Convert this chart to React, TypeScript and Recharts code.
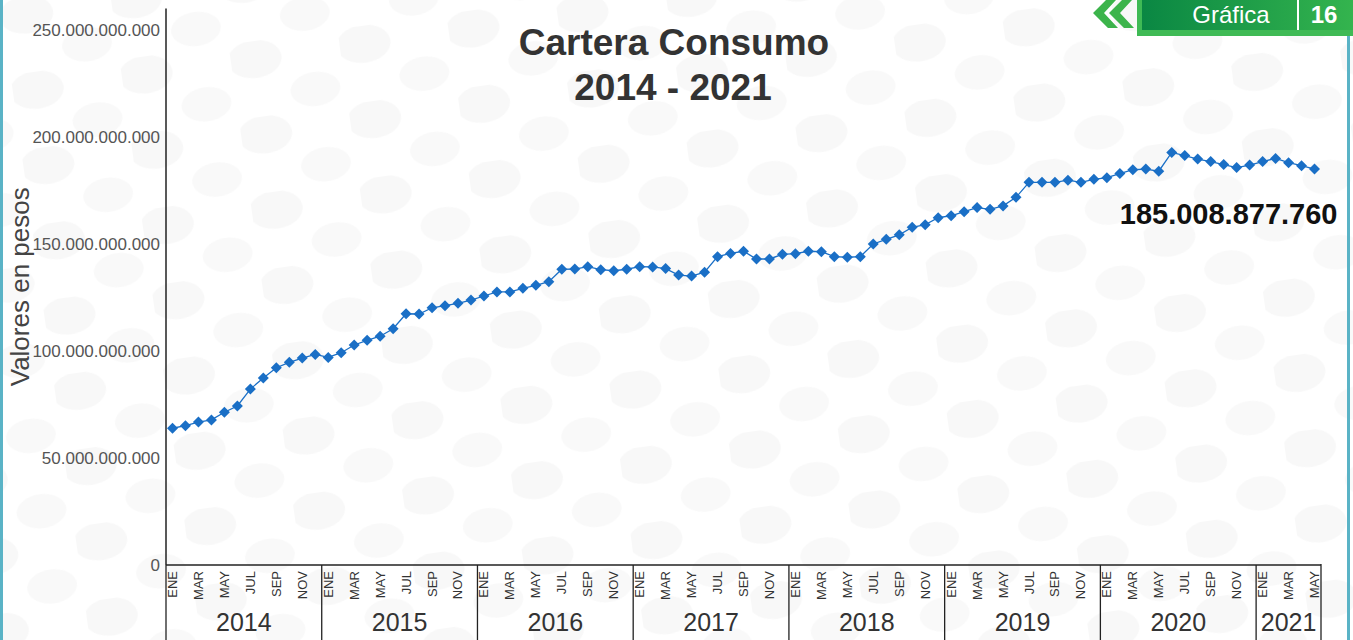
import React from 'react';
import { ComposedChart, Line, XAxis, YAxis, LabelList, Label } from 'recharts';

// Cartera Consumo, saldo mensual en miles de millones de pesos
const years = [2014, 2015, 2016, 2017, 2018, 2019, 2020, 2021];
const monthNames = ['ENE', 'FEB', 'MAR', 'ABR', 'MAY', 'JUN', 'JUL', 'AGO', 'SEP', 'OCT', 'NOV', 'DIC'];

const v2014 = [63.9, 65.1, 66.8, 67.8, 71.4, 74.3, 82.2, 87.4, 92.2, 94.7, 96.7, 98.4];
const v2015 = [97.0, 99.2, 102.8, 105.0, 106.9, 110.4, 117.4, 117.3, 120.2, 121.2, 122.3, 123.8];
const v2016 = [125.7, 127.6, 127.6, 129.3, 130.7, 132.4, 138.2, 138.3, 139.4, 138.0, 137.5, 138.2];
const v2017 = [139.4, 139.3, 138.5, 135.5, 135.0, 136.8, 144.1, 145.6, 146.6, 143.0, 143.0, 145.2];
const v2018 = [145.5, 146.6, 146.4, 144.1, 143.8, 144.1, 150.0, 152.2, 154.3, 157.8, 159.0, 162.3];
const v2019 = [163.2, 165.1, 167.0, 166.2, 167.8, 171.8, 178.8, 178.8, 178.8, 179.8, 178.8, 180.2];
const v2020 = [181.0, 182.9, 184.7, 185.0, 184.0, 192.8, 191.3, 189.7, 188.5, 187.1, 185.7, 186.9];
const v2021 = [188.5, 190.0, 188.0, 186.6, 185.008877760];

const yTicks = [0, 50e9, 100e9, 150e9, 200e9, 250e9];
const lastLabel = '185.008.877.760';

const byYear = [v2014, v2015, v2016, v2017, v2018, v2019, v2020, v2021];
const data = byYear.flatMap((vals, yi) =>
  vals.map((v, m) => ({
    key: `${years[yi]}-${m + 1}`,
    year: years[yi],
    month: m,
    count: vals.length,
    value: v * 1e9,
  }))
);

const W = 1353;
const H = 640;
const margin = { top: 8.6, right: 32, bottom: 0, left: 0 };
const yAxisW = 166;
const plotW = W - margin.left - margin.right - yAxisW;
const bw = plotW / data.length;
const BLUE = '#1a6fc6';
const font = '"Liberation Sans", Arial, Helvetica, sans-serif';

const fmt = (v: number) => String(Math.round(v)).replace(/\B(?=(\d{3})+(?!\d))/g, '.');

function MonthTick(props: any) {
  const { x, y, payload } = props;
  const d = data[payload.index];
  if (!d) return null;
  const half = bw / 2;
  const left = x - half;
  const isLast = payload.index === data.length - 1;
  return (
    <g>
      {d.month % 2 === 0 && (
        <text x={x} y={y + 6} transform={`rotate(-90 ${x} ${y + 6})`} dy={4.5} textAnchor="end"
          fontSize={13} fill="#333" fontFamily={font}>
          {monthNames[d.month]}
        </text>
      )}
      {d.month === 0 && (
        <>
          <line x1={left} x2={left} y1={y} y2={H} stroke="#222" strokeWidth={1.3} />
          <text x={left + (d.count * bw) / 2} y={y + 66} textAnchor="middle" fontSize={25}
            fill="#333" fontFamily={font}>
            {d.year}
          </text>
        </>
      )}
      {isLast && <line x1={x + half} x2={x + half} y1={y - 1} y2={H} stroke="#222" strokeWidth={1.3} />}
    </g>
  );
}

function Diamond(props: any) {
  const { cx, cy } = props;
  if (cx == null || cy == null) return null;
  const r = 5.5;
  return <path d={`M${cx},${cy - r}L${cx + r},${cy}L${cx},${cy + r}L${cx - r},${cy}Z`} fill={BLUE} />;
}

function Background() {
  return (
    <svg width={W} height={H} style={{ position: 'absolute', left: 0, top: 0 }}>
      <defs>
        <pattern id="dots" width="110" height="76" patternUnits="userSpaceOnUse" patternTransform="rotate(-8)">
          <ellipse cx="24" cy="18" rx="27" ry="19" fill="#f8f8f8" />
          <ellipse cx="80" cy="56" rx="25" ry="17" fill="#f9f9f9" />
        </pattern>
        <linearGradient id="badge" x1="0" x2="1" y1="0" y2="0">
          <stop offset="0" stopColor="#0a8743" />
          <stop offset="1" stopColor="#34b44e" />
        </linearGradient>
      </defs>
      <rect x={0} y={0} width={W} height={H} fill="#fff" />
      <rect x={0} y={0} width={W} height={H} fill="url(#dots)" />
      <rect x={0} y={0} width={3} height={H} fill="#5ab3c6" />
      <rect x={1347} y={34} width={3} height={H} fill="#5ab3c6" />
      {/* badge */}
      <polygon points="1106,0 1116,0 1104,13 1118,28 1108,28 1093,13" fill="#3cb44b" />
      <polygon points="1122,0 1132,0 1120,13 1134,28 1124,28 1109,13" fill="#3cb44b" />
      <rect x={1137} y={0} width={216} height={36} fill="#3fba55" />
      <rect x={1142} y={0} width={211} height={30} fill="url(#badge)" />
      <text x={1231} y={23} textAnchor="middle" fontSize={24} fill="#fff" fontFamily={font}>Gráfica</text>
      <line x1={1298} x2={1298} y1={0} y2={30} stroke="#fff" strokeWidth={2} />
      <text x={1324} y={23} textAnchor="middle" fontSize={24} fontWeight="bold" fill="#fff" fontFamily={font}>16</text>
    </svg>
  );
}

export default function App() {
  return (
    <div style={{ position: 'absolute', left: 0, top: 0, width: W, height: H, overflow: 'hidden' }}>
      <Background />
      <div style={{ position: 'absolute', left: 0, top: 0 }}>
        <ComposedChart width={W} height={H} data={data} margin={margin}>
          <text x={674} y={55} textAnchor="middle" fontSize={37} fontWeight="bold" fill="#333" fontFamily={font}>
            Cartera Consumo
          </text>
          <text x={673} y={100} textAnchor="middle" fontSize={37} fontWeight="bold" fill="#333" fontFamily={font}>
            2014 - 2021
          </text>
          <XAxis dataKey="key" scale="band" interval={0} tickLine={false} tickSize={0} tickMargin={0} height={75}
            axisLine={{ stroke: '#222', strokeWidth: 1.5 }} tick={<MonthTick />} />
          <YAxis width={yAxisW} domain={[0, 260e9]} ticks={yTicks} tickFormatter={fmt} tickLine={false}
            tickSize={0} tickMargin={6} axisLine={{ stroke: '#222', strokeWidth: 1.5 }}
            tick={{ fontSize: 17, fill: '#555', fontFamily: font }}>
            <Label value="Valores en pesos" angle={-90} position="insideLeft" offset={20}
              style={{ textAnchor: 'middle', fontSize: 26, fill: '#444', fontFamily: font }} />
          </YAxis>
          <Line type="linear" dataKey="value" stroke={BLUE} strokeWidth={1.3} dot={<Diamond />}
            activeDot={false} isAnimationActive={false}>
            <LabelList dataKey="value" content={(p: any) =>
              p.index === data.length - 1 ? (
                <text x={p.x + 23} y={p.y + 55} textAnchor="end" fontSize={29} fontWeight="bold"
                  fill="#111" fontFamily={font}>{lastLabel}</text>
              ) : null} />
          </Line>
        </ComposedChart>
      </div>
    </div>
  );
}
